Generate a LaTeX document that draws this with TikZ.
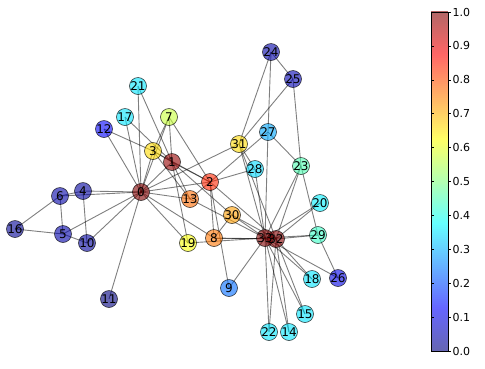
\documentclass[tikz,border=0pt]{standalone}
\usepackage{fontspec}
\setmainfont{DejaVu Sans}
\tikzset{
  jet/.code={%
    \pgfmathsetmacro\jr{max(0,min(1,1.5-abs(4*#1-3)))}%
    \pgfmathsetmacro\jg{max(0,min(1,1.5-abs(4*#1-2)))}%
    \pgfmathsetmacro\jb{max(0,min(1,1.5-abs(4*#1-1)))}%
    \definecolor{jetc}{rgb}{\jr,\jg,\jb}%
    \pgfkeysalso{fill=jetc}},
  jetbl/.code={%
    \pgfmathsetmacro\jr{0.4+0.6*max(0,min(1,1.5-abs(4*#1-3)))}%
    \pgfmathsetmacro\jg{0.4+0.6*max(0,min(1,1.5-abs(4*#1-2)))}%
    \pgfmathsetmacro\jb{0.4+0.6*max(0,min(1,1.5-abs(4*#1-1)))}%
    \definecolor{jetd}{rgb}{\jr,\jg,\jb}%
    \pgfkeysalso{fill=jetd}},
  vert/.style={circle, minimum size=17pt, inner sep=0pt, draw=black, line width=0.6pt, fill opacity=0.6, draw opacity=0.75},
  lab/.style={font=\fontsize{12}{14}\selectfont, inner sep=0pt, text=black},
  edge/.style={draw=black, draw opacity=0.5, line width=0.9pt},
  ticklab/.style={anchor=west, inner sep=0pt, font=\fontsize{11}{13}\selectfont}
}
\begin{document}
\begin{tikzpicture}[x={(1pt,0)}, y={(0,-1pt)}]
\useasboundingbox (0,0) rectangle (485,368);
% coordinates
\coordinate (c0) at (141,192);
\coordinate (c1) at (172,162);
\coordinate (c2) at (210,182);
\coordinate (c3) at (153,151);
\coordinate (c4) at (83,191);
\coordinate (c5) at (63,234);
\coordinate (c6) at (60,196);
\coordinate (c7) at (169,117);
\coordinate (c8) at (214,238);
\coordinate (c9) at (229,288);
\coordinate (c10) at (87,243);
\coordinate (c11) at (109,299);
\coordinate (c12) at (104,129);
\coordinate (c13) at (190,199);
\coordinate (c14) at (289,332);
\coordinate (c15) at (305,314);
\coordinate (c16) at (15,229);
\coordinate (c17) at (125,117);
\coordinate (c18) at (312,279);
\coordinate (c19) at (188,243);
\coordinate (c20) at (320,203);
\coordinate (c21) at (138,86);
\coordinate (c22) at (269,332);
\coordinate (c23) at (301,166);
\coordinate (c24) at (271,52);
\coordinate (c25) at (293,79);
\coordinate (c26) at (338,278);
\coordinate (c27) at (268,132);
\coordinate (c28) at (255,169);
\coordinate (c29) at (318,235);
\coordinate (c30) at (232,215);
\coordinate (c31) at (239,144);
\coordinate (c32) at (276,239);
\coordinate (c33) at (265,238);
% edges
\foreach \a/\b in {0/1,0/2,0/3,0/4,0/5,0/6,0/7,0/8,0/10,0/11,0/12,0/13,0/17,0/19,0/21,0/31,
  1/2,1/3,1/7,1/13,1/17,1/19,1/21,1/30,
  2/3,2/7,2/8,2/9,2/13,2/27,2/28,2/32,
  3/7,3/12,3/13,4/6,4/10,5/6,5/10,5/16,6/16,
  8/30,8/32,8/33,9/33,13/33,14/32,14/33,15/32,15/33,18/32,18/33,19/33,20/32,20/33,22/32,22/33,
  23/25,23/27,23/29,23/32,23/33,24/25,24/27,24/31,25/31,26/29,26/33,27/33,28/31,28/33,
  29/32,29/33,30/32,30/33,31/32,31/33,32/33}
  \draw[edge] (c\a) -- (c\b);
% vertices
\node[vert, jet=1.0]  (v0) at (c0) {};
\node[vert, jet=0.98] (v1) at (c1) {};
\node[vert, jet=0.84] (v2) at (c2) {};
\node[vert, jet=0.66] (v3) at (c3) {};
\node[vert, jet=0.03] (v4) at (c4) {};
\node[vert, jet=0.04] (v5) at (c5) {};
\node[vert, jet=0.04] (v6) at (c6) {};
\node[vert, jet=0.57] (v7) at (c7) {};
\node[vert, jet=0.76] (v8) at (c8) {};
\node[vert, jet=0.23] (v9) at (c9) {};
\node[vert, jet=0.03] (v10) at (c10) {};
\node[vert, jet=0.0]  (v11) at (c11) {};
\node[vert, jet=0.12] (v12) at (c12) {};
\node[vert, jet=0.77] (v13) at (c13) {};
\node[vert, jet=0.35] (v14) at (c14) {};
\node[vert, jet=0.35] (v15) at (c15) {};
\node[vert, jet=0.02] (v16) at (c16) {};
\node[vert, jet=0.35] (v17) at (c17) {};
\node[vert, jet=0.35] (v18) at (c18) {};
\node[vert, jet=0.62] (v19) at (c19) {};
\node[vert, jet=0.36] (v20) at (c20) {};
\node[vert, jet=0.35] (v21) at (c21) {};
\node[vert, jet=0.35] (v22) at (c22) {};
\node[vert, jet=0.45] (v23) at (c23) {};
\node[vert, jet=0.04] (v24) at (c24) {};
\node[vert, jet=0.05] (v25) at (c25) {};
\node[vert, jet=0.10] (v26) at (c26) {};
\node[vert, jet=0.29] (v27) at (c27) {};
\node[vert, jet=0.34] (v28) at (c28) {};
\node[vert, jet=0.43] (v29) at (c29) {};
\node[vert, jet=0.72] (v30) at (c30) {};
\node[vert, jet=0.66] (v31) at (c31) {};
\node[vert, jet=1.0]  (v32) at (c32) {};
\node[vert, jet=1.0]  (v33) at (c33) {};
% labels
\foreach \k in {0,...,33}
  \node[lab] (l\k) at (c\k) {\k};
% colorbar
\foreach \i in {0,...,169} {
  \pgfmathsetmacro\v{(\i+0.5)/170}
  \pgfmathsetmacro\ya{351-\i/170*339}
  \pgfmathsetmacro\yb{351-(\i+1)/170*339-0.6}
  \fill[jetbl=\v] (431,\ya) rectangle (448,\yb);
}
\draw[line width=0.7pt, black] (431,12) rectangle (448,351);
\foreach \t/\s in {0/0.0,1/0.1,2/0.2,3/0.3,4/0.4,5/0.5,6/0.6,7/0.7,8/0.8,9/0.9,10/1.0} {
  \pgfmathsetmacro\ty{351-\t*33.9}
  \draw[line width=0.5pt, black] (448,\ty) -- (451,\ty);
  \draw[line width=0.5pt, black] (431,\ty) -- (434,\ty);
  \node[ticklab] (tk\t) at (452.5,\ty) {\s};
}
\end{tikzpicture}
\end{document}
